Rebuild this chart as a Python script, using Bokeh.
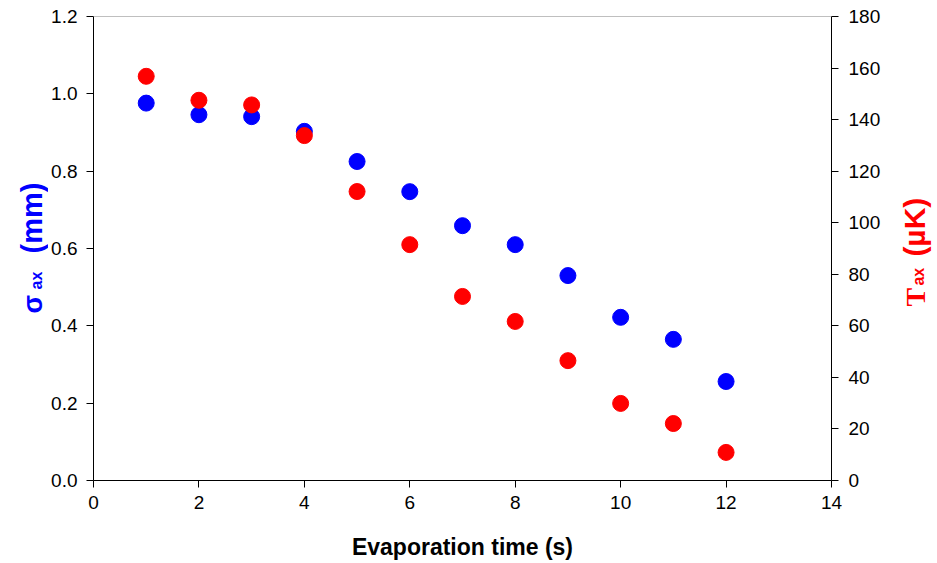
import math
from bokeh.plotting import figure
from bokeh.layouts import row
from bokeh.models import Range1d, LinearAxis, FixedTicker, PrintfTickFormatter, Span
from bokeh.core.properties import value
from bokeh.embed import file_html
from bokeh.resources import INLINE

# ---- data ----
evap_time = [1, 2, 3, 4, 5, 6, 7, 8, 9, 10, 11, 12]
sigma_ax_mm = [0.976, 0.946, 0.941, 0.903, 0.825, 0.747, 0.659, 0.610, 0.530, 0.422, 0.365, 0.256]
temp_ax_uK = [156.8, 147.5, 145.7, 133.8, 112.1, 91.5, 71.4, 61.7, 46.5, 29.9, 22.1, 10.9]
x_ticks = [0, 2, 4, 6, 8, 10, 12, 14]
left_ticks = [0.0, 0.2, 0.4, 0.6, 0.8, 1.0, 1.2]
right_ticks = [0, 20, 40, 60, 80, 100, 120, 140, 160, 180]
x_label = "Evaporation time (s)"

FONT = "Liberation Sans"
SERIF = "Liberation Serif"
BLUE = "#0000FF"
RED = "#FF0000"
H = 563
TOP, BOTTOM = 16, 83

# ---- main chart ----
p = figure(width=837, height=H,
           x_range=Range1d(0, 14), y_range=Range1d(0, 1.2),
           output_backend="svg", toolbar_location=None,
           min_border_left=45, min_border_right=54,
           min_border_top=TOP, min_border_bottom=BOTTOM)
p.extra_y_ranges = {"temp": Range1d(0, 180)}
p.background_fill_color = "white"
p.border_fill_color = "white"
p.outline_line_color = None
p.xgrid.visible = False
p.ygrid.visible = False

right_axis = LinearAxis(y_range_name="temp", ticker=FixedTicker(ticks=right_ticks))
p.add_layout(right_axis, "right")

p.xaxis.ticker = FixedTicker(ticks=x_ticks)
p.yaxis[0].ticker = FixedTicker(ticks=left_ticks)
p.yaxis[0].formatter = PrintfTickFormatter(format="%.1f")

for ax in [p.xaxis[0], p.yaxis[0], right_axis]:
    ax.axis_line_color = "black"
    ax.axis_line_width = 1
    ax.major_tick_line_color = "black"
    ax.major_tick_in = 0
    ax.major_tick_out = 7
    ax.minor_tick_line_color = None
    ax.major_label_text_font = FONT
    ax.major_label_text_font_size = "19px"
    ax.major_label_text_color = "black"
    ax.major_label_standoff = 10

p.yaxis[0].major_label_standoff = 9
p.xaxis.major_label_standoff = 8
p.xaxis.axis_label = x_label
p.xaxis.axis_label_text_font = FONT
p.xaxis.axis_label_text_font_style = "bold"
p.xaxis.axis_label_text_font_size = "23px"
p.xaxis.axis_label_text_color = "black"
p.xaxis.axis_label_standoff = 22

# top border in gray
p.add_layout(Span(location=1.2, dimension="width", line_color="#808080", line_width=1))

# data points
p.scatter(evap_time, sigma_ax_mm, size=16, fill_color=BLUE, line_color=BLUE, marker="circle")
p.scatter(evap_time, temp_ax_uK, size=16, fill_color=RED, line_color=RED, marker="circle",
          y_range_name="temp")


# ---- side panels holding the rotated axis titles (with subscripts) ----
# vertical extent matches the main frame (same borders, same 0-1.2 range)
def side_fig(w):
    f = figure(width=w, height=H, x_range=Range1d(0, w), y_range=Range1d(0, 1.2),
               output_backend="svg", toolbar_location=None,
               x_axis_location=None, y_axis_location=None,
               min_border_left=0, min_border_right=0,
               min_border_top=TOP, min_border_bottom=BOTTOM)
    f.outline_line_color = None
    f.background_fill_color = "white"
    f.border_fill_color = "white"
    f.grid.visible = False
    return f


def piece(f, x, y, txt, size, color, font=FONT):
    f.text(x=[x], y=[y], text=[txt], angle=math.pi / 2,
           text_font=value(font), text_font_size=value(size), text_font_style="bold",
           text_color=color, text_align="left", text_baseline="middle")


left = side_fig(48)
piece(left, 32.5, 0.432, "σ", "27px", BLUE)
piece(left, 36.4, 0.494, "ax", "16px", BLUE)
piece(left, 31.8, 0.587, "(mm)", "29px", BLUE)

right = side_fig(52)
piece(right, 29.5, 0.450, "T", "28px", RED, font=SERIF)
piece(right, 33.4, 0.504, "ax", "16px", RED)
piece(right, 28.5, 0.579, "(µK)", "30px", RED)

layout = row(left, p, right)
open("out.html", "w").write(file_html(layout, INLINE))
